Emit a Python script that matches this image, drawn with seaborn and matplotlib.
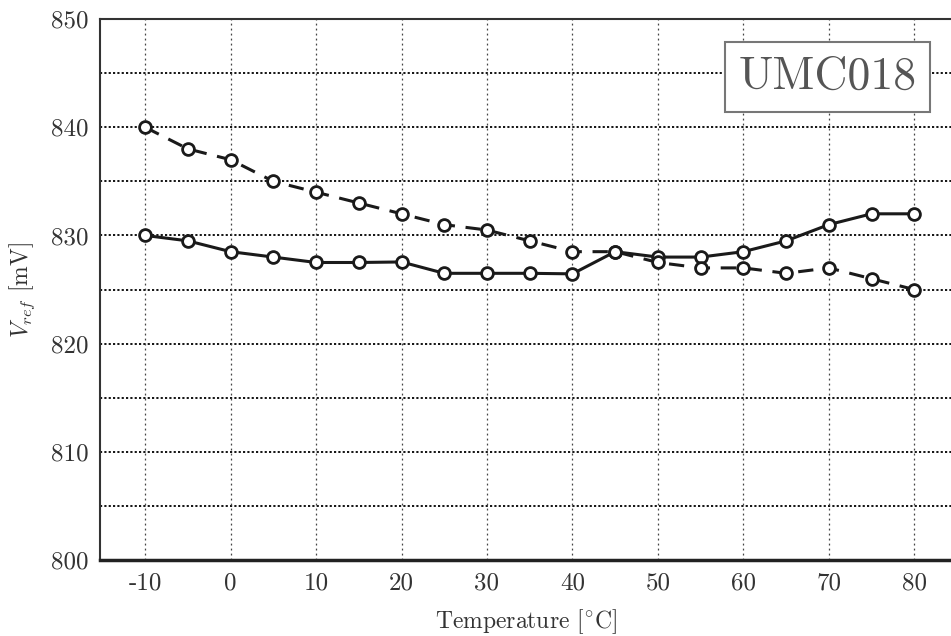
import matplotlib
matplotlib.use("Agg")
import matplotlib.pyplot as plt
import seaborn as sns
import numpy as np

# Data
temps = [-10, -5, 0, 5, 10, 15, 20, 25, 30, 35, 40, 45, 50, 55, 60, 65, 70, 75, 80]
vref_solid = [830.0, 829.5, 828.5, 828.0, 827.5, 827.5, 827.55, 826.5, 826.5, 826.5,
              826.45, 828.5, 828.0, 828.0, 828.5, 829.5, 831.0, 832.0, 832.0]
vref_dashed = [840.0, 838.0, 837.0, 835.0, 834.0, 833.0, 832.0, 831.0, 830.5, 829.5,
               828.5, 828.5, 827.5, 827.0, 827.0, 826.5, 827.0, 826.0, 825.0]
xtick_vals = [-10, 0, 10, 20, 30, 40, 50, 60, 70, 80]
ytick_vals = [800, 810, 820, 830, 840, 850]

sns.set_theme(style="white")
plt.rcParams.update({
    'font.family': 'serif',
    'font.serif': ['cmr10', 'DejaVu Serif'],
    'mathtext.fontset': 'cm',
    'axes.unicode_minus': False,
    'axes.formatter.use_mathtext': True,
})

fig = plt.figure(figsize=(9.51, 6.36), dpi=100)
ax = fig.add_axes([0.105, 0.1195, 0.895, 0.8505])

# grid: dotted, horizontal every 5 mV
for yv in np.arange(805, 850, 5):
    ax.axhline(yv, color='black', linestyle=(0, (1.2, 1.2)), linewidth=1.3, zorder=1)
for xv in xtick_vals:
    ax.axvline(xv, color='#444444', linestyle=(0, (1.5, 2.5)), linewidth=0.9, zorder=1)

sns.lineplot(x=temps, y=vref_solid, ax=ax, color='#1a1a1a', linewidth=2.2,
             marker='o', markersize=8.5, markerfacecolor='white',
             markeredgecolor='#1a1a1a', markeredgewidth=2.0, zorder=3)
sns.lineplot(x=temps, y=vref_dashed, ax=ax, color='#1a1a1a', linewidth=2.2,
             linestyle=(0, (5, 3.5)),
             marker='o', markersize=8.5, markerfacecolor='white',
             markeredgecolor='#1a1a1a', markeredgewidth=2.0, zorder=3)

ax.set_xlim(-15.3, 84.3)
ax.set_ylim(800, 850)
ax.set_xticks(xtick_vals)
ax.set_xticklabels([str(v) for v in xtick_vals])
ax.set_yticks(ytick_vals)
ax.set_yticklabels([str(v) for v in ytick_vals])
ax.tick_params(axis='both', labelsize=18, colors='#333333', length=0, pad=8)
ax.tick_params(axis='x', pad=9)

ax.set_xlabel(r'Temperature [$^{\circ}$C]', fontsize=17, color='#333333', labelpad=9)
ax.set_ylabel(r'$V_{ref}$ [mV]', fontsize=17, color='#333333', labelpad=10)

ax.spines['right'].set_visible(False)
ax.spines['top'].set_color('#333333')
ax.spines['top'].set_linewidth(1.5)
ax.spines['left'].set_color('#333333')
ax.spines['left'].set_linewidth(1.5)
ax.spines['bottom'].set_color('#222222')
ax.spines['bottom'].set_linewidth(2.5)

ax.text(0.855, 0.893, 'UMC018', transform=ax.transAxes, fontsize=33,
        color='#555555', ha='center', va='center', zorder=5,
        bbox=dict(boxstyle='square,pad=0.3', facecolor='white',
                  edgecolor='#777777', linewidth=1.5))

fig.savefig('out.png', dpi=100)
